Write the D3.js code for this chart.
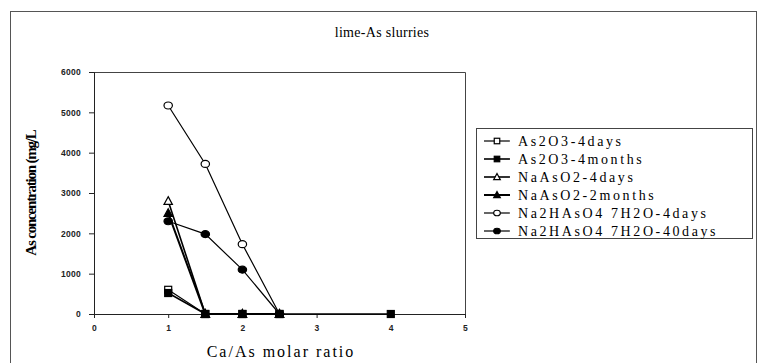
<!DOCTYPE html>
<html>
<head>
<meta charset="utf-8">
<script src="https://cdn.jsdelivr.net/npm/d3@7"></script>
<style>
  body { margin: 0; background: #fff; }
  svg { font-family: "Liberation Serif", "Times New Roman", serif; }
  .tick text { font-size: 8.5px; font-weight: bold; fill: #222; letter-spacing: 0.3px; }
</style>
</head>
<body>
<svg id="chart" width="758" height="363"></svg>
<script>
  // ==================
  // Data
  // ==================
  const seriesNames = [
    'As2O3-4days',
    'As2O3-4months',
    'NaAsO2-4days',
    'NaAsO2-2months',
    'Na2HAsO4 7H2O-4days',
    'Na2HAsO4 7H2O-40days'
  ];
  const seriesMarkers = ['square-open', 'square', 'triangle-open', 'triangle', 'circle-open', 'circle'];
  const seriesWidths = [1.2, 1.6, 1.6, 2, 1.2, 1.2];

  const as2o3Days = [[1, 600], [1.5, 0], [2, 0], [2.5, 0]];
  const as2o3Months = [[1, 520], [1.5, 0], [2, 0], [2.5, 0], [4, 0]];
  const naAsO2Days = [[1, 2800], [1.5, 0], [2, 0], [2.5, 0]];
  const naAsO2Months = [[1, 2500], [1.5, 0], [2, 0], [2.5, 0]];
  const na2HAsO4Days = [[1, 5170], [1.5, 3720], [2, 1730], [2.5, 0]];
  const na2HAsO4Days40 = [[1, 2300], [1.5, 1980], [2, 1100], [2.5, 0]];

  const seriesValues = [as2o3Days, as2o3Months, naAsO2Days, naAsO2Months, na2HAsO4Days, na2HAsO4Days40];

  const xTicks = [0, 1, 2, 3, 4, 5];
  const yTicks = [0, 1000, 2000, 3000, 4000, 5000, 6000];

  // ==================
  // Layout
  // ==================
  const PLOT_LEFT = 94;
  const PLOT_RIGHT = 465;
  const PLOT_TOP = 72;
  const PLOT_BOTTOM = 314;

  const svg = d3.select('#chart');

  // outer frame
  svg.append('rect')
    .attr('x', 10.5).attr('y', 11.5)
    .attr('width', 746).attr('height', 360)
    .attr('fill', 'none').attr('stroke', '#555').attr('stroke-width', 1);

  svg.append('text')
    .attr('x', 382).attr('y', 37)
    .attr('text-anchor', 'middle')
    .attr('font-size', 14)
    .attr('letter-spacing', 0.3)
    .text('lime-As slurries');

  const xScale = d3.scaleLinear().domain([0, 5]).range([PLOT_LEFT, PLOT_RIGHT]);
  const yScale = d3.scaleLinear().domain([0, 6000]).range([PLOT_BOTTOM, PLOT_TOP]);

  // plot area frame (top and right)
  svg.append('path')
    .attr('d', `M${PLOT_LEFT},${PLOT_TOP + 0.5}H${PLOT_RIGHT + 0.5}V${PLOT_BOTTOM}`)
    .attr('fill', 'none').attr('stroke', '#444').attr('stroke-width', 1);

  const xAxis = d3.axisBottom(xScale)
    .tickValues(xTicks)
    .tickSize(4)
    .tickPadding(7)
    .tickFormat(d3.format('d'));

  const yAxis = d3.axisLeft(yScale)
    .tickValues(yTicks)
    .tickSize(5)
    .tickPadding(8)
    .tickFormat(d3.format('d'));

  svg.append('g')
    .attr('transform', `translate(0, ${PLOT_BOTTOM})`)
    .call(xAxis)
    .call(g => g.select('.domain').attr('stroke', '#222'))
    .call(g => g.selectAll('.tick line').attr('stroke', '#222'));

  svg.append('g')
    .attr('transform', `translate(${PLOT_LEFT}, 0)`)
    .call(yAxis)
    .call(g => g.select('.domain').attr('stroke', '#222'))
    .call(g => g.selectAll('.tick line').attr('stroke', '#222'));

  svg.append('text')
    .attr('transform', `translate(36, 193) rotate(-90)`)
    .attr('text-anchor', 'middle')
    .attr('font-size', 15)
    .attr('font-weight', 'bold')
    .attr('letter-spacing', -1.2)
    .text('As concentration (mg/L');

  svg.append('text')
    .attr('x', 281).attr('y', 357)
    .attr('text-anchor', 'middle')
    .attr('font-size', 16)
    .attr('letter-spacing', 2)
    .text('Ca/As molar ratio');

  // ==================
  // Markers
  // ==================
  const drawMarker = (g, type, cx, cy, size) => {
    const filled = !type.endsWith('-open');
    const shape = type.replace('-open', '');
    const fill = filled ? '#000' : '#fff';
    let el;
    if (shape === 'square') {
      el = g.append('rect')
        .attr('x', cx - size / 2).attr('y', cy - size / 2)
        .attr('width', size).attr('height', size);
    } else if (shape === 'triangle') {
      const h = size * 1.05;
      el = g.append('path')
        .attr('d', `M${cx},${cy - h * 0.6}L${cx + size * 0.6},${cy + h * 0.45}L${cx - size * 0.6},${cy + h * 0.45}Z`);
    } else {
      el = g.append('ellipse')
        .attr('cx', cx).attr('cy', cy)
        .attr('rx', size * 0.6).attr('ry', size * 0.5);
    }
    el.attr('fill', fill).attr('stroke', '#000').attr('stroke-width', 1.2);
  };

  const line = d3.line()
    .x(d => xScale(d[0]))
    .y(d => yScale(d[1]));

  const seriesGroup = svg.append('g');
  seriesValues.forEach((values, i) => {
    seriesGroup.append('path')
      .attr('d', line(values))
      .attr('fill', 'none')
      .attr('stroke', '#000')
      .attr('stroke-width', seriesWidths[i]);
  });

  // draw in order so filled markers sit on top
  [4, 0, 2, 5, 3, 1].forEach(i => {
    const g = seriesGroup.append('g');
    seriesValues[i].forEach(d => drawMarker(g, seriesMarkers[i], xScale(d[0]), yScale(d[1]), 7));
  });

  // ==================
  // Legend
  // ==================
  const LEGEND_X = 476;
  const LEGEND_Y = 128;
  const LEGEND_ROW = 18;

  svg.append('rect')
    .attr('x', LEGEND_X + 0.5).attr('y', LEGEND_Y + 0.5)
    .attr('width', 276).attr('height', 110)
    .attr('fill', '#fff').attr('stroke', '#444');

  seriesNames.forEach((name, i) => {
    const y = LEGEND_Y + 13 + i * LEGEND_ROW;
    const g = svg.append('g');
    g.append('line')
      .attr('x1', LEGEND_X + 8).attr('x2', LEGEND_X + 34)
      .attr('y1', y).attr('y2', y)
      .attr('stroke', '#000').attr('stroke-width', seriesWidths[i]);
    drawMarker(g, seriesMarkers[i], LEGEND_X + 21, y, 5.5);
    g.append('text')
      .attr('x', LEGEND_X + 42).attr('y', y + 4.5)
      .attr('font-size', 14)
      .attr('letter-spacing', 2.6)
      .text(name);
  });
</script>
</body>
</html>
